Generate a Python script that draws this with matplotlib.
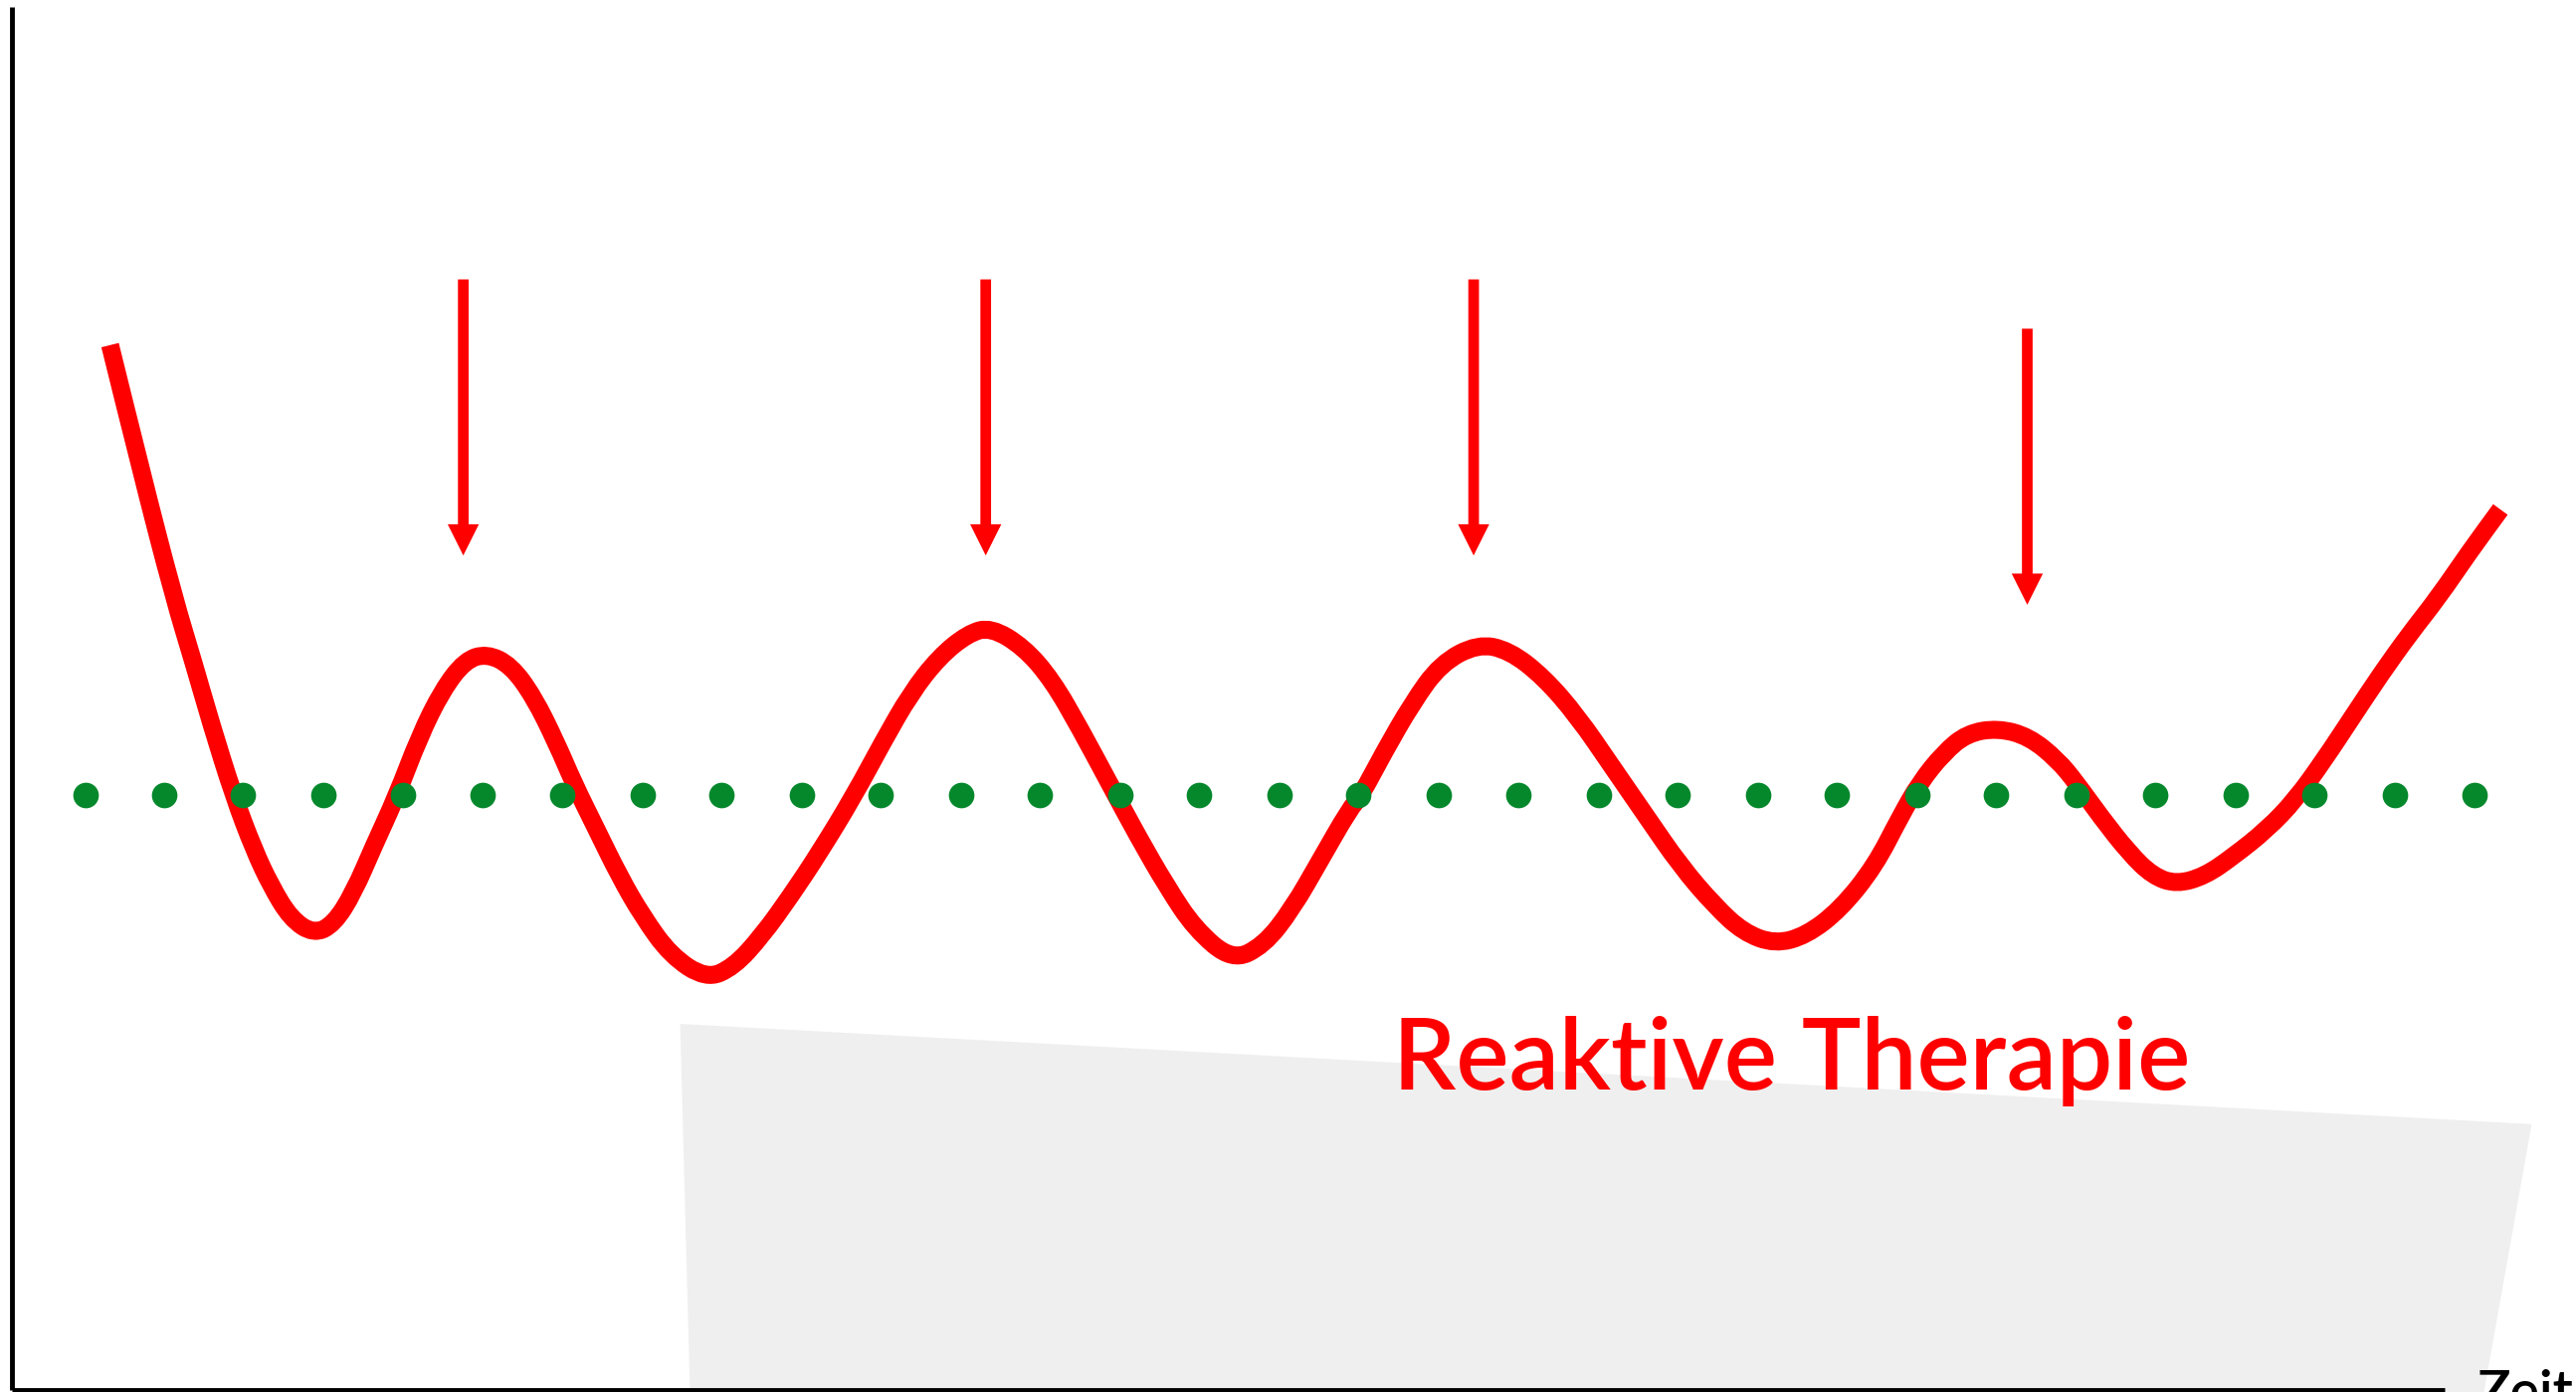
import matplotlib.pyplot as plt
from matplotlib.path import Path
from matplotlib.patches import PathPatch

# ----------- DATA (picture units, origin top left) ------------
curve_x = [67, 86, 105.8, 118, 128.4, 142.3, 154.5, 164.9, 177, 191, 203.2, 215.3, 227.5, 241.4,
           255.3, 269.2, 283.1, 296.3, 310.9, 324.9, 338.8, 349.2, 363.1, 377, 390.9, 408.3,
           429.9, 446.5, 463.9, 481.3, 498.7, 519.6, 537, 554.3, 571.7, 589.1, 603, 623.1,
           640.5, 657.9, 675.2, 692.6, 710, 727.4, 750, 769.1, 786.5, 803.9, 821.3, 828.2,
           842.1, 859.5, 876.9, 899.5, 918.6, 939.5, 960.4, 981.2, 1002.1, 1023, 1043.8,
           1061.2, 1080.3, 1099.4, 1120.3, 1141.2, 1156.8, 1168.4, 1182.9, 1197.4, 1216.2,
           1235, 1252.4, 1264, 1278.5, 1295.9, 1310.4, 1324.8, 1342.2, 1359.6, 1379.9,
           1397.3, 1414.7, 1432, 1449.4, 1466.8, 1484.2, 1503, 1522]
curve_y = [210, 287, 363.4, 403.8, 440, 484.5, 516.8, 539, 559, 568.3, 562.3, 543, 514.8, 484.5,
           448.2, 420, 401.8, 397.7, 404.8, 424, 452.2, 476.5, 504.7, 533, 557.2, 581.5,
           595.6, 588.5, 569.3, 545.1, 518.9, 484.5, 452.2, 421.9, 399.7, 385.6, 381.6, 393.7,
           413.9, 444.2, 476.5, 508.8, 539, 565.3, 584.5, 575.4, 553.2, 522.9, 492.6, 484.5,
           458.3, 428, 403.8, 391.7, 395.7, 411.9, 436.1, 466.4, 496.7, 527, 551.2,
           567.3, 574.4, 569.3, 553.2, 527, 496.7, 476.5, 458.3, 446.2, 443.1,
           448.2, 462.3, 476.5, 496.7, 518.9, 533, 538, 533, 520.9, 504.7,
           486.5, 462.3, 436.1, 409.9, 385.6, 363.4, 336, 310]

# dotted target line
dots_x = [52, 100, 148, 197, 245, 294, 342, 391, 439, 488, 536, 585, 633, 682, 730, 779,
          827, 876, 924, 973, 1021, 1070, 1118, 1167, 1215, 1264, 1312, 1361, 1409, 1458, 1506]
dots_level = 484

# therapy arrows: x, start, tip
arrow_x = [282, 600, 897, 1234]
arrow_top = [170, 170, 170, 200]
arrow_tip = [338, 338, 338, 368]

# light grey background patch
patch_x = [414, 1541, 1512, 420]
patch_y = [623, 684, 847, 847]

# axis lines
y_axis_x = [7.3, 7.3]
y_axis_y = [4, 846]
x_axis_x = [7.3, 1488]
x_axis_y = [846, 846]

label_text = "Reaktive Therapie"
axis_label = "Zeit"


# ----------- HELPER -----------
def smooth_path(xs, ys):
    """
    Builds a quadratic bezier path that uses the read points as control points
    :param xs: x values
    :param ys: y values
    :return: matplotlib Path
    """
    verts = [(xs[0], ys[0])]
    codes = [Path.MOVETO]
    for i in range(1, len(xs) - 1):
        mid = ((xs[i] + xs[i + 1]) / 2, (ys[i] + ys[i + 1]) / 2)
        verts += [(xs[i], ys[i]), mid]
        codes += [Path.CURVE3, Path.CURVE3]
    verts.append((xs[-1], ys[-1]))
    codes.append(Path.LINETO)
    return Path(verts, codes)


# ----------- Plot the Data ------------
def draw_chart():
    """
    Draws the sketch of the reactive therapy course
    :return: nothing
    """
    fig = plt.figure(figsize=(25.89, 13.99), dpi=100)
    ax = fig.add_axes([0, 0, 1, 1])
    ax.set_xlim(0, 1568)
    ax.set_ylim(847, 0)
    ax.axis('off')

    '''grey patch in the background'''
    ax.fill(patch_x, patch_y, color='#efefef', zorder=0, linewidth=0)

    '''axes'''
    ax.plot(y_axis_x, y_axis_y, color='black', linewidth=3.5, solid_capstyle='butt', zorder=2)
    ax.plot(x_axis_x, x_axis_y, color='black', linewidth=3.5, solid_capstyle='butt', zorder=2)

    '''the curve'''
    ax.add_patch(PathPatch(smooth_path(curve_x, curve_y), facecolor='none', edgecolor='#ff0000',
                           linewidth=13, capstyle='butt', joinstyle='round', zorder=3))

    '''green dots on top of the curve'''
    ax.plot(dots_x, [dots_level] * len(dots_x), linestyle='none', marker='o',
            markersize=18.5, color='#05882c', markeredgewidth=0, zorder=4)

    '''arrows'''
    for x, top, tip in zip(arrow_x, arrow_top, arrow_tip):
        ax.arrow(x, top, 0, tip - top, width=6.5, head_width=19, head_length=19,
                 length_includes_head=True, color='#ff0000', linewidth=0, zorder=3)

    ax.text(848, 663, label_text, color='#ff0000', fontsize=72, family='Lato',
            fontweight='semibold', ha='left', va='baseline', zorder=5)
    ax.text(1508, 858, axis_label, color='black', fontsize=40, family='Lato',
            fontweight='semibold', ha='left', va='baseline', zorder=5)

    fig.savefig('out.png', dpi=100)


def main():
    draw_chart()


if __name__ == '__main__':
    main()
